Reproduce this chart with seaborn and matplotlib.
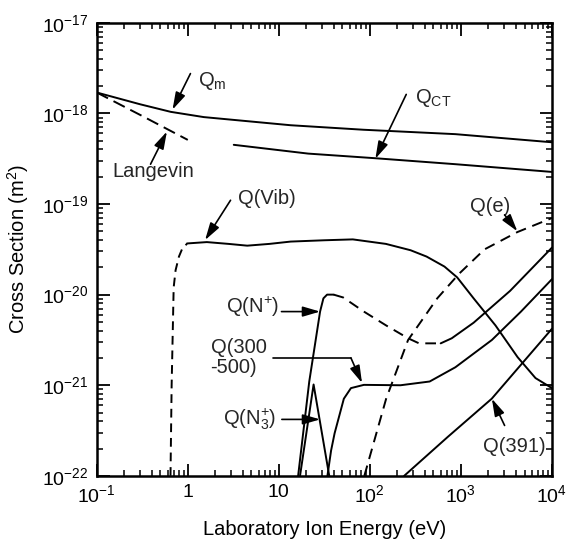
import matplotlib
matplotlib.use("Agg")
import matplotlib.pyplot as plt
import seaborn as sns
import pandas as pd
from matplotlib.ticker import FixedLocator, FixedFormatter, LogLocator, NullFormatter

# ---------------- data ----------------
qm_E = [0.1, 0.3, 0.65, 1.5, 13.5, 85, 870, 1e4]
qm_Q = [1.70e-18, 1.26e-18, 1.04e-18, 9.1e-19, 7.4e-19, 6.6e-19, 5.9e-19, 4.8e-19]

lang_E = [0.1, 0.32, 1.0]
lang_Q = [1.70e-18, 9.3e-19, 5.1e-19]

qct_E = [3.2, 21, 115, 870, 1e4]
qct_Q = [4.5e-19, 3.6e-19, 3.2e-19, 2.75e-19, 2.26e-19]

vib_dash_E = [0.646, 0.665, 0.70, 0.735, 0.80, 0.88, 0.98]
vib_dash_Q = [1e-22, 1e-21, 1.2e-20, 1.86e-20, 2.63e-20, 3.31e-20, 3.63e-20]

vib_E = [0.98, 1.62, 2.8, 4.5, 7.9, 13.5, 31.6, 65, 150, 280, 420, 660, 910,
         1380, 2400, 4200, 6600, 1e4]
vib_Q = [3.67e-20, 3.80e-20, 3.63e-20, 3.47e-20, 3.63e-20, 3.85e-20, 3.98e-20,
         4.07e-20, 3.63e-20, 3.09e-20, 2.63e-20, 2.04e-20, 1.55e-20, 9.1e-21,
         4.57e-21, 2.04e-21, 1.20e-21, 9.3e-22]

qe_E = [87, 151, 263, 550, 955, 1820, 4170, 1e4]
qe_Q = [1e-22, 7.1e-22, 3.16e-21, 9.1e-21, 1.70e-20, 3.16e-20, 4.9e-20, 7.0e-20]

np_rise_E = [16.3, 21.6, 28.4, 30.9, 33.9, 40.0]
np_rise_Q = [1e-22, 1.1e-21, 6.5e-21, 9.1e-21, 1.0e-20, 1.0e-20]

np_dash_E = [40.0, 51, 86, 151, 263, 347, 600]
np_dash_Q = [1.0e-20, 9.3e-21, 6.5e-21, 4.57e-21, 3.3e-21, 2.9e-21, 2.9e-21]

np_high_E = [600, 794, 1380, 3470, 1e4]
np_high_Q = [2.9e-21, 3.3e-21, 4.9e-21, 1.1e-20, 3.3e-20]

q35_E = [34.2, 37.5, 41, 51.8, 62, 86, 217, 454, 870, 2190, 4570, 1e4]
q35_Q = [1e-22, 1.9e-22, 2.95e-22, 7.1e-22, 9.3e-22, 1.01e-21, 1.0e-21, 1.1e-21,
         1.58e-21, 3.16e-21, 6.5e-21, 1.48e-20]

n3_E = [17.1, 24.1, 35.8]
n3_Q = [1e-22, 1.02e-21, 1e-22]

q391_E = [238, 720, 2180, 1e4]
q391_Q = [1e-22, 2.7e-22, 7.1e-22, 4.2e-21]

x_ticks = [0.1, 1, 10, 100, 1000, 10000]
x_labels = ["10$^{-1}$", "1", "10", "10$^2$", "10$^3$", "10$^4$"]
y_ticks = [1e-22, 1e-21, 1e-20, 1e-19, 1e-18, 1e-17]
y_labels = ["10$^{-22}$", "10$^{-21}$", "10$^{-20}$", "10$^{-19}$", "10$^{-18}$", "10$^{-17}$"]

# ---------------- style ----------------
sns.set_theme(style="ticks")
plt.rcParams["font.family"] = ["Liberation Sans", "DejaVu Sans"]
plt.rcParams["mathtext.default"] = "regular"
plt.rcParams["axes.unicode_minus"] = False

fig = plt.figure(figsize=(5.69, 5.42), dpi=100)
ax = fig.add_axes([0.170, 0.122, 0.800, 0.836])
ax.set_xscale("log")
ax.set_yscale("log")

LW = 1.4
DASH = (0, (5.5, 3.5))
segments = [
    (qm_E, qm_Q, "-"),
    (lang_E, lang_Q, (0, (6.5, 3.2))),
    (qct_E, qct_Q, "-"),
    (vib_dash_E, vib_dash_Q, (0, (4.5, 3.0))),
    (vib_E, vib_Q, "-"),
    (qe_E, qe_Q, DASH),
    (np_rise_E, np_rise_Q, "-"),
    (np_dash_E, np_dash_Q, DASH),
    (np_high_E, np_high_Q, "-"),
    (q35_E, q35_Q, "-"),
    (n3_E, n3_Q, "-"),
    (q391_E, q391_Q, "-"),
]
for E, Q, ls in segments:
    df = pd.DataFrame({"E": E, "Q": Q})
    sns.lineplot(data=df, x="E", y="Q", ax=ax, color="black", lw=LW,
                 linestyle=ls, sort=False, estimator=None)

ax.set_xlim(0.1, 1e4)
ax.set_ylim(1e-22, 1e-17)

ax.xaxis.set_major_locator(FixedLocator(x_ticks))
ax.xaxis.set_major_formatter(FixedFormatter(x_labels))
ax.yaxis.set_major_locator(FixedLocator(y_ticks))
ax.yaxis.set_major_formatter(FixedFormatter(y_labels))
ax.xaxis.set_minor_locator(LogLocator(base=10, subs=range(2, 10), numticks=20))
ax.yaxis.set_minor_locator(LogLocator(base=10, subs=range(2, 10), numticks=20))
ax.xaxis.set_minor_formatter(NullFormatter())
ax.yaxis.set_minor_formatter(NullFormatter())

ax.tick_params(which="both", direction="in", top=True, right=True,
               color="black", labelsize=14, labelcolor="black")
ax.tick_params(which="major", length=9, width=1.3, pad=6)
ax.tick_params(which="minor", length=4.5, width=1.1)
for s in ax.spines.values():
    s.set_linewidth(1.8)
    s.set_color("black")

ax.set_xlabel("Laboratory Ion Energy (eV)", fontsize=14.5, labelpad=10, color="black")
ax.set_ylabel("Cross Section (m$^2$)", fontsize=14.5, labelpad=8, color="black")

# ---------------- annotations ----------------
FS = 14.5
AP = dict(arrowstyle="-|>,head_length=0.75,head_width=0.22", color="black",
          lw=1.2, mutation_scale=14, shrinkA=0, shrinkB=0)

def arrow(tail, tip):
    ax.annotate("", xy=tip, xytext=tail, arrowprops=AP)

ax.text(1.3, 2.3e-18, "Q$_m$", fontsize=FS, ha="left", va="center")
arrow((1.07, 2.75e-18), (0.68, 1.1e-18))

ax.text(0.148, 2.3e-19, "Langevin", fontsize=FS, ha="left", va="center")
arrow((0.39, 2.75e-19), (0.59, 6.3e-19))

ax.text(316, 1.48e-18, "Q$_{CT}$", fontsize=FS, ha="left", va="center")
arrow((251, 1.62e-18), (115, 3.16e-19))

ax.text(3.55, 1.15e-19, "Q(Vib)", fontsize=FS, ha="left", va="center")
arrow((2.95, 1.1e-19), (1.55, 4.0e-20))

ax.text(1260, 9.3e-20, "Q(e)", fontsize=FS, ha="left", va="center")
arrow((3020, 7.6e-20), (4170, 5.0e-20))

ax.text(10.2, 7.4e-21, "Q(N$^{+}$)", fontsize=FS, ha="right", va="center")
arrow((10.7, 6.5e-21), (28.4, 6.5e-21))

ax.text(1.78, 2.04e-21, "Q(300\n-500)", fontsize=FS, ha="left", va="center",
        linespacing=1.05)
ax.plot([8.6, 62], [2.0e-21, 2.0e-21], color="black", lw=1.2)
arrow((62, 2.0e-21), (82, 1.06e-21))

ax.text(9.3, 4.2e-22, r"$Q(N_3^{+})$", fontsize=FS, ha="right", va="center")
arrow((10.8, 4.2e-22), (28.4, 4.2e-22))

ax.text(1740, 2.1e-22, "Q(391)", fontsize=FS, ha="left", va="center")
arrow((3020, 3.6e-22), (2190, 7.1e-22))

fig.savefig("out.png", dpi=100)
